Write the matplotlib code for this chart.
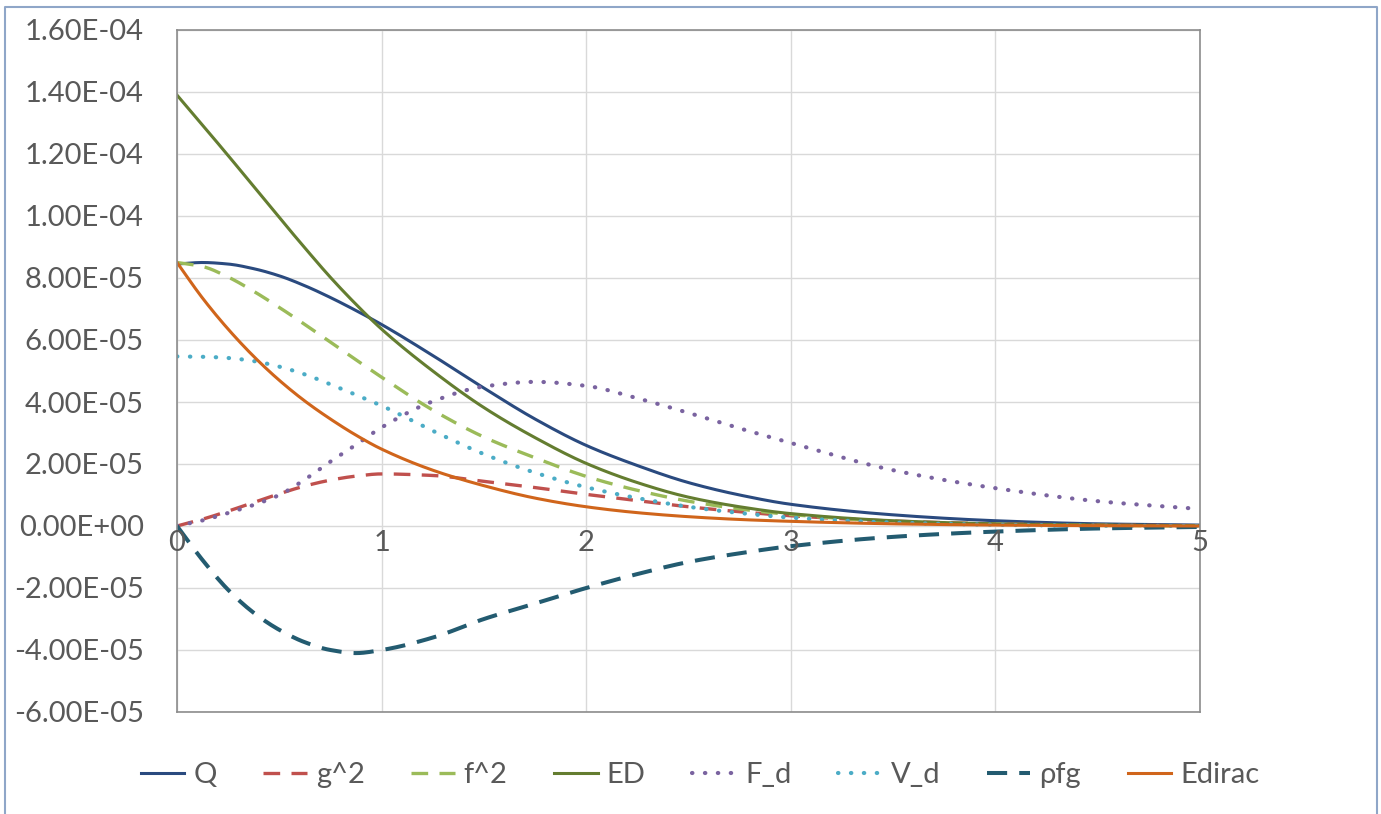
import numpy as np
import matplotlib
matplotlib.use("Agg")
import matplotlib.pyplot as plt
from matplotlib.lines import Line2D

plt.rcParams['font.family'] = ['Lato', 'DejaVu Sans']

# sample positions (r) and curve values in units of 1e-5
r = [0, 0.125, 0.25, 0.375, 0.5, 0.625, 0.75, 0.875, 1.0, 1.25, 1.5, 1.75,
     2.0, 2.25, 2.5, 2.75, 3.0, 3.5, 4.0, 4.5, 5.0]

q_vals      = [8.45, 8.5, 8.45, 8.3, 8.07, 7.75, 7.37, 6.95, 6.5, 5.5, 4.45, 3.45,
               2.6, 1.95, 1.4, 1.0, 0.7, 0.36, 0.17, 0.07, 0.03]
g2_vals     = [0.0, 0.22, 0.48, 0.76, 1.04, 1.29, 1.48, 1.61, 1.68, 1.63, 1.44, 1.24,
               1.02, 0.82, 0.62, 0.46, 0.33, 0.16, 0.07, 0.03, 0.01]
f2_vals     = [8.5, 8.37, 8.03, 7.57, 7.05, 6.5, 5.93, 5.36, 4.8, 3.74, 2.87, 2.2,
               1.6, 1.15, 0.8, 0.55, 0.37, 0.15, 0.06, 0.02, 0.0]
ed_vals     = [13.9, 12.93, 11.95, 10.95, 9.95, 8.97, 8.02, 7.15, 6.35, 5.0, 3.82, 2.85,
               2.02, 1.4, 0.93, 0.62, 0.4, 0.17, 0.07, 0.03, 0.01]
fd_vals     = [0.0, 0.18, 0.42, 0.68, 1.0, 1.5, 2.08, 2.62, 3.18, 4.02, 4.5, 4.65,
               4.52, 4.12, 3.65, 3.15, 2.68, 1.8, 1.22, 0.8, 0.55]
vd_vals     = [5.47, 5.46, 5.42, 5.32, 5.14, 4.89, 4.57, 4.23, 3.88, 3.07, 2.32, 1.72,
               1.25, 0.9, 0.62, 0.42, 0.27, 0.11, 0.04, 0.01, 0.0]
rhofg_vals  = [0.0, -1.1, -2.06, -2.8, -3.35, -3.75, -4.0, -4.1, -4.0, -3.6, -3.0, -2.5,
               -2.0, -1.55, -1.16, -0.88, -0.65, -0.35, -0.18, -0.08, -0.03]
edirac_vals = [8.5, 7.35, 6.35, 5.47, 4.7, 4.03, 3.45, 2.93, 2.48, 1.8, 1.3, 0.9,
               0.62, 0.43, 0.3, 0.21, 0.15, 0.07, 0.03, 0.01, 0.0]

labels = ['Q', 'g^2', 'f^2', 'ED', 'F_d', 'V_d', 'ρfg', 'Edirac']

y_ticks = np.arange(-6e-5, 1.6e-4 + 1e-12, 2e-5)
x_ticks = [0, 1, 2, 3, 4, 5]

DOT = (0, (0.1, 3.0))
DASH = (0, (5.0, 3.4))

styles = [
    dict(color='#2a4a7f', lw=2.2, ls='-'),
    dict(color='#c0504d', lw=2.4, ls=DASH),
    dict(color='#9bbb59', lw=2.4, ls=DASH),
    dict(color='#647d30', lw=2.2, ls='-'),
    dict(color='#7a63a0', lw=3.0, ls=DOT, dash_capstyle='round'),
    dict(color='#4bacc6', lw=3.0, ls=DOT, dash_capstyle='round'),
    dict(color='#235b70', lw=2.9, ls=(0, (5.0, 3.0))),
    dict(color='#d0651b', lw=2.2, ls='-'),
]

series = [q_vals, g2_vals, f2_vals, ed_vals, fd_vals, vd_vals, rhofg_vals, edirac_vals]


def pchip(x, y, xf):
    # monotone cubic (Fritsch-Carlson) so the curves stay smooth like Excel's
    x = np.asarray(x, float)
    y = np.asarray(y, float)
    h = np.diff(x)
    d = np.diff(y) / h
    m = np.zeros_like(y)
    for k in range(1, len(x) - 1):
        if d[k - 1] * d[k] > 0:
            w1 = 2 * h[k] + h[k - 1]
            w2 = h[k] + 2 * h[k - 1]
            m[k] = (w1 + w2) / (w1 / d[k - 1] + w2 / d[k])
    m[0] = d[0]
    m[-1] = d[-1]
    idx = np.clip(np.searchsorted(x, xf) - 1, 0, len(x) - 2)
    hh = h[idx]
    t = (xf - x[idx]) / hh
    return ((2 * t**3 - 3 * t**2 + 1) * y[idx] + (t**3 - 2 * t**2 + t) * hh * m[idx]
            + (-2 * t**3 + 3 * t**2) * y[idx + 1] + (t**3 - t**2) * hh * m[idx + 1])


fig = plt.figure(figsize=(13.81, 8.14), dpi=100)
ax = fig.add_axes([177 / 1381, 1 - 712 / 814, (1200 - 177) / 1381, (712 - 30) / 814])

r_fine = np.linspace(0, 5, 500)
for vals, st, lab in zip(series, styles, labels):
    v = np.array(vals) * 1e-5
    ax.plot(r_fine, pchip(r, v, r_fine), label=lab, **st)

ax.set_xlim(0, 5)
ax.set_ylim(-6e-5, 1.6e-4)
ax.set_yticks(y_ticks)
ax.set_yticklabels(['%.2E' % v if abs(v) > 1e-12 else '0.00E+00' for v in y_ticks])
ax.set_xticks(x_ticks)
ax.set_xticklabels([])
ax.tick_params(axis='both', length=0, labelsize=21, labelcolor='#595959')
ax.tick_params(axis='y', pad=24)
ax.grid(True, color='#d9d9d9', lw=1)
ax.set_axisbelow(True)
for sp in ax.spines.values():
    sp.set_color('#8c8c8c')
    sp.set_linewidth(1.2)

# x labels sit on the zero line
for xv in x_ticks:
    ax.annotate(str(xv), (xv, 0), xytext=(0, -3), textcoords='offset points',
                ha='center', va='top', fontsize=21, color='#595959')

handles = [Line2D([0], [0], **st) for st in styles]
fig.legend(handles, labels, loc='center', bbox_to_anchor=(700 / 1381, 1 - 775 / 814), ncol=8,
           frameon=False, fontsize=21, labelcolor='#595959', handlelength=1.5,
           handletextpad=0.3, columnspacing=1.6)

# outer chart border
fig.add_artist(Line2D([5 / 1381, 5 / 1381, 1377 / 1381, 1377 / 1381],
                      [0, 1 - 7 / 814, 1 - 7 / 814, 0],
                      transform=fig.transFigure, color='#8fa6c8', lw=1.5))

fig.savefig('out.png', dpi=100)
